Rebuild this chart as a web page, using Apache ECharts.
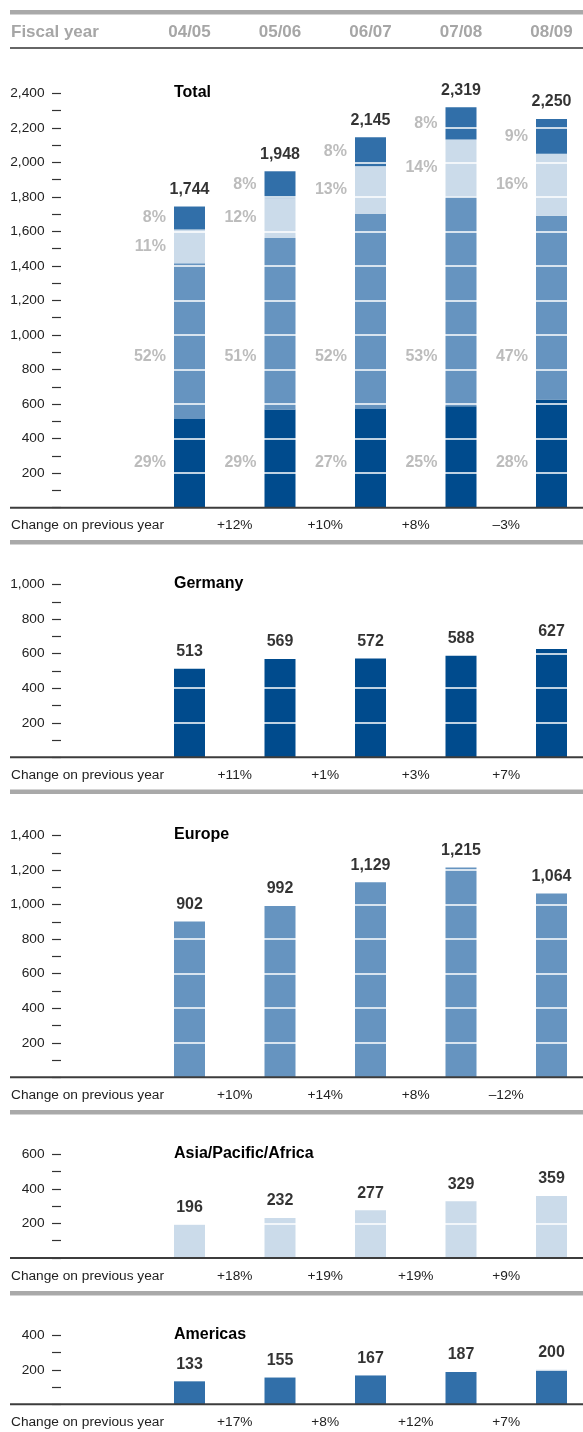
<!DOCTYPE html>
<html>
<head>
<meta charset="utf-8">
<script src="https://cdn.jsdelivr.net/npm/echarts@6/dist/echarts.min.js"></script>
<style>
  html, body { margin: 0; padding: 0; background: #fff; }
  #chart { width: 583px; height: 1432px; }
</style>
</head>
<body>
<div id="chart"></div>
<script>
// ---- data: revenue by region, fiscal years 04/05 – 08/09 ----
const years = ['04/05', '05/06', '06/07', '07/08', '08/09'];
const germany = [513, 569, 572, 588, 627];
const europe = [902, 992, 1129, 1215, 1064];
const asiaPacificAfrica = [196, 232, 277, 329, 359];
const americas = [133, 155, 167, 187, 200];

// value-axis ranges of the five panels (ticks every 200)
const axisMaxima = [2400, 1000, 1400, 600, 400];
const TICK_STEP = 200;

// ---- layout & style ----
const PX_PER_UNIT = 0.1727;
const GRID_LEFT = 144.25, GRID_WIDTH = 452.5;
const BAR_WIDTH = 31;
const PANEL_BASES = [507.7, 757.3, 1077.3, 1258, 1404.3];
const SHARE_LEVEL_GERMANY = 259, SHARE_LEVEL_EUROPE = 877; // fixed heights of the lower share labels
const COLORS = { germany: '#004b8d', europe: '#6694c0', asia: '#cbdbea', americas: '#316fa9' };
const SANS = "'Liberation Sans', Arial, Helvetica, sans-serif";
const TEXT_SIZE = 13.7;
const RULE_GREY = '#a9a9a9';
const SHARE_GREY = '#ababab';

// ---- derived values ----
const totals = years.map((_, i) => germany[i] + europe[i] + asiaPacificAfrica[i] + americas[i]);
const fmt = v => v.toLocaleString('en-US');

// regional shares of each total, rounded so they add up to 100 (largest remainder)
const shares = years.map((_, i) => {
  const raw = [germany[i], europe[i], asiaPacificAfrica[i], americas[i]].map(v => v / totals[i] * 100);
  const out = raw.map(Math.floor);
  const left = 100 - out.reduce((a, b) => a + b, 0);
  raw.map((r, k) => [r - Math.floor(r), k])
     .sort((a, b) => b[0] - a[0])
     .slice(0, left)
     .forEach(([, k]) => { out[k]++; });
  return out;
});

const changeLabels = arr => arr.slice(1).map((v, i) => {
  const c = Math.round((v / arr[i] - 1) * 100);
  return (c < 0 ? '\u2013' : '+') + Math.abs(c) + '%';
});

const panels = [
  { title: 'Total', values: totals },
  { title: 'Germany', values: germany, color: COLORS.germany },
  { title: 'Europe', values: europe, color: COLORS.europe },
  { title: 'Asia/Pacific/Africa', values: asiaPacificAfrica, color: COLORS.asia },
  { title: 'Americas', values: americas, color: COLORS.americas }
];

const grids = [], xAxes = [], yAxes = [], series = [], graphics = [];

const labelSeries = (gi, data, label) => ({
  type: 'scatter', xAxisIndex: gi * 2, yAxisIndex: gi, z: 10, silent: true,
  symbolSize: 0.1, itemStyle: { color: 'rgba(0,0,0,0)' },
  data, label: Object.assign({ show: true }, label)
});

const valueLabel = {
  position: 'top', distance: 9, color: '#000', fontFamily: SANS,
  fontWeight: 'bold', fontSize: 16, lineHeight: 16,
  formatter: p => fmt(p.value)
};

panels.forEach((p, gi) => {
  const max = axisMaxima[gi];
  const base = PANEL_BASES[gi];
  const height = max * PX_PER_UNIT;
  const top = base - height;
  grids.push({
    left: GRID_LEFT, width: GRID_WIDTH, top, height,
    containLabel: false, outerBoundsMode: 'none'
  });

  // fiscal-year axis (labels shown once, in the header row)
  xAxes.push({
    gridIndex: gi, type: 'category', data: years, position: 'top',
    show: gi === 0, offset: top - 40,
    axisLine: { show: false }, axisTick: { show: false },
    axisLabel: {
      margin: 8, verticalAlign: 'middle', color: '#a6a6a6',
      fontFamily: SANS, fontWeight: 'bold', fontSize: 17
    }
  });
  // year-on-year change, placed between the years
  const ch = changeLabels(p.values);
  xAxes.push({
    gridIndex: gi, type: 'category', boundaryGap: false, position: 'bottom',
    data: ['0', '1', '2', '3', '4', '5'],
    axisLine: { show: false }, axisTick: { show: false },
    axisLabel: {
      interval: 0, margin: 11, color: '#222', fontFamily: SANS, fontSize: TEXT_SIZE,
      formatter: (v, idx) => (idx >= 1 && idx <= ch.length ? ch[idx - 1] : '')
    }
  });

  yAxes.push({
    gridIndex: gi, type: 'value', min: 0, max, interval: TICK_STEP,
    offset: GRID_LEFT - 61, z: 4,
    axisLine: { show: false },
    axisTick: { show: true, length: 9, lineStyle: { color: '#333', width: 1.2 } },
    minorTick: { show: true, splitNumber: 2, length: 9, lineStyle: { color: '#333', width: 1.2 } },
    minorSplitLine: { show: false },
    splitLine: { show: true, lineStyle: { color: '#ffffff', width: 1.5 } },
    axisLabel: {
      margin: 16.5, color: '#222', fontFamily: SANS, fontSize: TEXT_SIZE,
      padding: [0, 0, 3, 0],
      formatter: v => (v === 0 ? '' : fmt(v))
    }
  });

  // panel rules and texts
  graphics.push({
    type: 'rect', shape: { x: 10, y: base - 1, width: 573, height: 2 },
    style: { fill: '#3c3c3c' }, z: 20
  });
  graphics.push({
    type: 'text', x: 174, y: top - 1, z: 20,
    style: { text: p.title, fill: '#000', fontFamily: SANS, fontWeight: 'bold', fontSize: 16, verticalAlign: 'middle' }
  });
  graphics.push({
    type: 'text', x: 11, y: base + 18, z: 20,
    style: { text: 'Change on previous year', fill: '#222', fontFamily: SANS, fontSize: TEXT_SIZE, verticalAlign: 'middle' }
  });

  if (gi === 0) {
    const regions = [
      ['Germany', germany, COLORS.germany],
      ['Europe', europe, COLORS.europe],
      ['Asia/Pacific/Africa', asiaPacificAfrica, COLORS.asia],
      ['Americas', americas, COLORS.americas]
    ];
    regions.forEach(([name, vals, color]) => {
      series.push({
        name, type: 'bar', stack: 'total', xAxisIndex: 0, yAxisIndex: 0,
        barWidth: BAR_WIDTH, z: 2, itemStyle: { color }, data: vals
      });
    });
    // stack totals
    series.push(labelSeries(0, totals, valueLabel));
    // share labels beside the segments
    const shareLabel = k => ({
      position: 'left', distance: BAR_WIDTH / 2 + 8, color: SHARE_GREY,
      fontFamily: SANS, fontWeight: 'bold', fontSize: 16, lineHeight: 16,
      formatter: q => shares[q.dataIndex][k] + '%'
    });
    series.push(labelSeries(0, years.map(() => SHARE_LEVEL_GERMANY), shareLabel(0)));
    series.push(labelSeries(0, years.map(() => SHARE_LEVEL_EUROPE), shareLabel(1)));
    series.push(labelSeries(0, years.map((_, i) => germany[i] + europe[i] + asiaPacificAfrica[i] / 2), shareLabel(2)));
    series.push(labelSeries(0, years.map((_, i) => germany[i] + europe[i] + asiaPacificAfrica[i] + americas[i] / 2), shareLabel(3)));
  } else {
    series.push({
      name: p.title, type: 'bar', xAxisIndex: gi * 2, yAxisIndex: gi,
      barWidth: BAR_WIDTH, z: 2, itemStyle: { color: p.color }, data: p.values
    });
    series.push(labelSeries(gi, p.values, valueLabel));
  }
});

// header row and separators
graphics.push({ type: 'rect', shape: { x: 10, y: 10, width: 573, height: 4.5 }, style: { fill: RULE_GREY } });
graphics.push({ type: 'rect', shape: { x: 10, y: 47, width: 573, height: 2 }, style: { fill: '#666' } });
graphics.push({
  type: 'text', x: 11, y: 32,
  style: { text: 'Fiscal year', fill: '#a6a6a6', fontFamily: SANS, fontWeight: 'bold', fontSize: 17, verticalAlign: 'middle' }
});
[540, 789.5, 1110, 1291].forEach(y => {
  graphics.push({ type: 'rect', shape: { x: 10, y, width: 573, height: 4.5 }, style: { fill: RULE_GREY } });
});

const chart = echarts.init(document.getElementById('chart'));
chart.setOption({
  animation: false,
  backgroundColor: '#fff',
  grid: grids,
  xAxis: xAxes,
  yAxis: yAxes,
  series,
  graphic: graphics
});
</script>
</body>
</html>
